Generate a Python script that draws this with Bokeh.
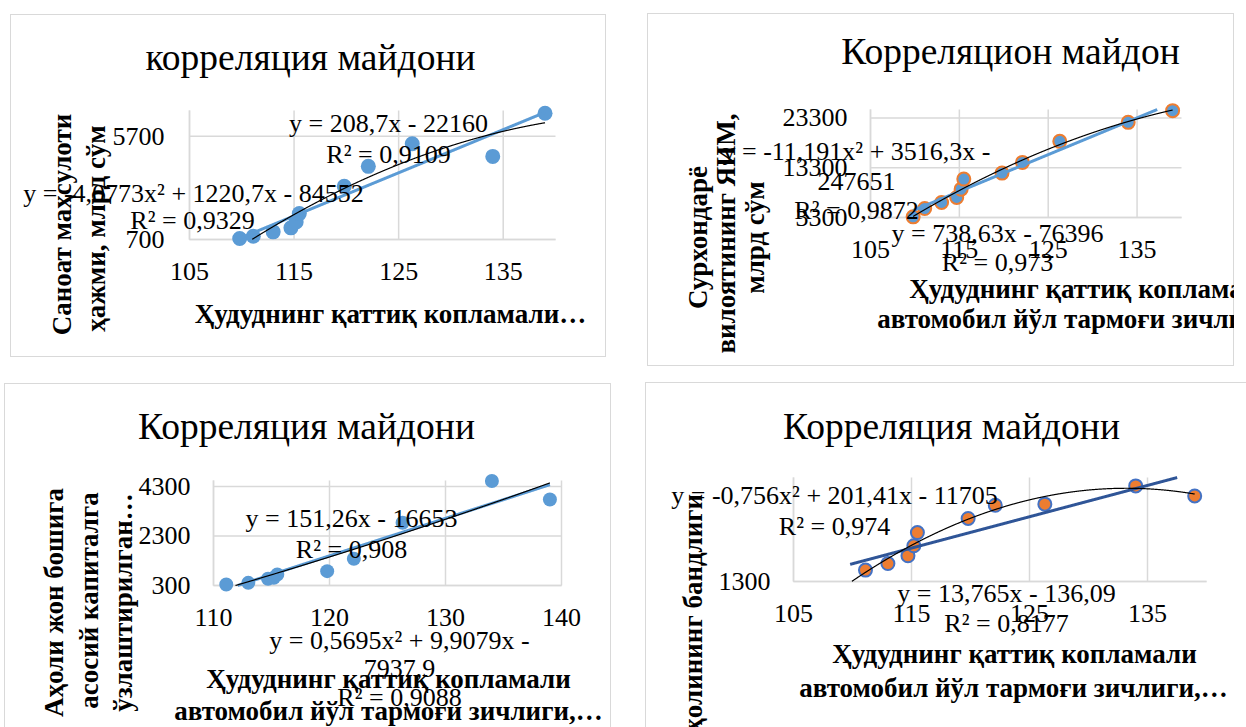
import numpy as np
from bokeh.plotting import figure
from bokeh.models import Range1d, FixedTicker, Label
from bokeh.layouts import row, column
from bokeh.embed import file_html
from bokeh.resources import INLINE

FONT = "Liberation Serif"

# ---------------- data ----------------
road_density = [109.8, 111.1, 113.0, 114.7, 115.2, 115.5, 119.8, 122.1, 126.3, 134.0, 139.0]
industry_output = [748, 861, 1070, 1263, 1552, 1954, 3273, 4238, 5331, 4720, 6810]
grp_output = [3430, 5110, 6320, 7330, 9000, 11020, 12220, 14370, 18600, 22420, 24770]
invest_per_capita = [340, 408, 570, 610, 745, 880, 1378, 2832, 4520, 3775]   # districts 2..11
employment = [1350, 1379, 1413, 1457, 1515, 1577, 1635, 1640, 1720, 1676]      # districts 2..11

titles = ["корреляция майдони", "Корреляцион майдон", "Корреляция майдони", "Корреляция майдони"]
x_title_short = "Ҳудуднинг қаттиқ копламали…"
x_title_lines = ["Ҳудуднинг қаттиқ копламали", "автомобил йўл тармоғи зичлиги,…"]
y_title_1 = ["Саноат маҳсулоти", "ҳажми, млрд сўм"]
y_title_2 = ["Сурхондарё", "вилоятининг ЯИМ,", "млрд сўм"]
y_title_3 = ["Аҳоли жон бошига", "асосий капиталга", "ўзлаштирилган…"]
y_title_4 = ["Аҳолининг бандлиги"]

x_ticks_1 = [105, 115, 125, 135]
y_ticks_1 = [700, 5700]
x_ticks_2 = [105, 115, 125, 135]
y_ticks_2 = [3300, 13300, 23300]
x_ticks_3 = [110, 120, 130, 140]
y_ticks_3 = [300, 2300, 4300]
x_ticks_4 = [105, 115, 125, 135]
y_ticks_4 = [1300]

lin_coef_1 = [208.7, -22160]
poly_coef_1 = [-4.0773, 1220.7, -84552]
lin_coef_2 = [738.63, -76396]
poly_coef_2 = [-11.191, 3516.3, -247651]
lin_coef_3 = [151.26, -16653]
poly_coef_3 = [0.5695, 9.9079, -7937.9]
lin_coef_4 = [13.765, -136.09]
poly_coef_4 = [-0.756, 201.41, -11705]

lin_eq_1 = ["y = 208,7x - 22160", "R² = 0,9109"]
poly_eq_1 = ["y = -4,0773x² + 1220,7x - 84552", "R² = 0,9329"]
lin_eq_2 = ["y = 738,63x - 76396", "R² = 0,973"]
poly_eq_2 = ["y = -11,191x² + 3516,3x -", "247651", "R² = 0,9872"]
lin_eq_3 = ["y = 151,26x - 16653", "R² = 0,908"]
poly_eq_3 = ["y = 0,5695x² + 9,9079x -", "7937,9", "R² = 0,9088"]
lin_eq_4 = ["y = 13,765x - 136,09", "R² = 0,8177"]
poly_eq_4 = ["y = -0,756x² + 201,41x - 11705", "R² = 0,974"]

BLUE = "#5B9BD5"
ORANGE = "#ED7D31"
NAVY = "#2F5597"
GRID = "#d9d9d9"
TS = 37.5   # chart title size
BS = 27     # bold axis-title size


def to_data(cfg, px, py):
    L, T, R, B = cfg["box"]
    x0, x1 = cfg["xr"]
    y0, y1 = cfg["yr"]
    return x0 + (px - L) * (x1 - x0) / (R - L), y0 + (B - py) * (y1 - y0) / (B - T)


def add_text(p, cfg, text, px, py, size=26, bold=False, vertical=False):
    dx, dy = to_data(cfg, px, py)
    p.add_layout(Label(x=dx, y=dy, text=text, text_font=FONT, text_font_size=f"{size}px",
                       text_font_style="bold" if bold else "normal", text_color="black",
                       text_align="center", text_baseline="middle",
                       angle=np.pi / 2 if vertical else 0))


def make_panel(cfg):
    x0, x1 = cfg["xr"]
    y0, y1 = cfg["yr"]
    cl, ct, w, h = cfg["canvas"]
    xa, ya = to_data(cfg, cl, ct + h)
    xb, yb = to_data(cfg, cl + w, ct)
    p = figure(width=w, height=h, output_backend="svg", toolbar_location=None,
               x_range=Range1d(xa, xb), y_range=Range1d(ya, yb),
               min_border_left=0, min_border_right=0, min_border_top=0, min_border_bottom=0)
    p.title.visible = False
    p.outline_line_color = None
    p.border_fill_color = None
    p.background_fill_color = None
    p.styles = {"box-shadow": cfg["border"]}
    p.xgrid.visible = False
    p.ygrid.visible = False

    p.xaxis.ticker = FixedTicker(ticks=cfg["xticks"])
    p.yaxis.ticker = FixedTicker(ticks=cfg["yticks"])
    for ax in (p.xaxis[0], p.yaxis[0]):
        ax.axis_line_color = GRID
        ax.axis_line_width = 1.5
        ax.major_tick_line_color = None
        ax.minor_tick_line_color = None
        ax.major_tick_out = 0
        ax.major_tick_in = 0
        ax.major_label_text_font = FONT
        ax.major_label_text_font_size = "26px"
        ax.major_label_text_color = "black"
        ax.level = "underlay"
    p.xaxis.fixed_location = y0
    p.yaxis.fixed_location = x0
    p.xaxis.bounds = (x0, x1)
    p.yaxis.bounds = (y0, y1)
    p.xaxis.major_label_standoff = 23
    p.yaxis.major_label_standoff = cfg.get("ystand", 23)

    # gridlines at the tick positions
    xt, yt = cfg["xticks"], cfg["yticks"]
    p.segment(x0=xt, y0=[y0] * len(xt), x1=xt, y1=[y1] * len(xt),
              line_color=GRID, line_width=1.5, level="underlay")
    p.segment(x0=[x0] * len(yt), y0=yt, x1=[x1] * len(yt), y1=yt,
              line_color=GRID, line_width=1.5, level="underlay")

    # markers
    p.scatter(cfg["x"], cfg["y"], size=cfg["msize"], fill_color=cfg["mfill"],
              line_color=cfg["mline"], line_width=2)

    # trend lines (clipped to the plot area)
    xs = np.linspace(min(road_density), max(road_density), 1200)
    yl = np.polyval(cfg["lin"], xs)
    yl[(yl < y0) | (yl > y1)] = np.nan
    p.line(xs, yl, line_color=cfg["lcolor"], line_width=3)
    yp = np.polyval(cfg["poly"], xs)
    yp[(yp < y0) | (yp > y1)] = np.nan
    p.line(xs, yp, line_color="black", line_width=1.2)

    for t in cfg["texts"]:
        add_text(p, cfg, *t)
    return p


cfg1 = dict(canvas=(10, 14, 596, 343), box=(189, 110, 555, 239), xr=(105, 140), yr=(700, 6940),
            xticks=x_ticks_1, yticks=y_ticks_1, x=road_density, y=industry_output,
            msize=15, mfill=BLUE, mline=None, lcolor=BLUE, lin=lin_coef_1, poly=poly_coef_1,
            border="inset 0 0 0 1px #d9d9d9", ystand=25,
            texts=[(titles[0], 310, 57, TS),
                   (lin_eq_1[0], 388, 123), (lin_eq_1[1], 388, 154),
                   (poly_eq_1[0], 193, 193), (poly_eq_1[1], 192, 220),
                   (x_title_short, 390, 313, BS, True),
                   (y_title_1[0], 61, 224, BS, True, True), (y_title_1[1], 95, 228, BS, True, True)])

cfg2 = dict(canvas=(647, 13, 587, 353), box=(870, 109, 1181, 217), xr=(105, 140), yr=(3300, 25000),
            xticks=x_ticks_2, yticks=y_ticks_2, x=road_density, y=grp_output,
            msize=13, mfill=BLUE, mline=ORANGE, lcolor=BLUE, lin=lin_coef_2, poly=poly_coef_2,
            border="inset 0 0 0 1px #d9d9d9",
            texts=[(titles[1], 1010, 51, TS),
                   (poly_eq_2[0], 856, 151), (poly_eq_2[1], 856, 181), (poly_eq_2[2], 856, 210),
                   (lin_eq_2[0], 997, 233), (lin_eq_2[1], 997, 262),
                   (x_title_lines[0], 1091, 288, BS, True), (x_title_lines[1], 1091, 318, BS, True),
                   (y_title_2[0], 697, 237, BS, True, True), (y_title_2[1], 725, 233, BS, True, True),
                   (y_title_2[2], 754, 237, BS, True, True)])

cfg3 = dict(canvas=(4, 383, 607, 344), box=(213, 480, 561, 585), xr=(110, 140), yr=(300, 4540),
            xticks=x_ticks_3, yticks=y_ticks_3, x=road_density[1:], y=invest_per_capita,
            msize=14, mfill=BLUE, mline=None, lcolor=BLUE, lin=lin_coef_3, poly=poly_coef_3,
            border="inset 1px 1px 0 0 #d9d9d9, inset -1px 0 0 0 #d9d9d9",
            texts=[(titles[2], 306, 426, TS),
                   (lin_eq_3[0], 351, 518), (lin_eq_3[1], 351, 549),
                   (poly_eq_3[0], 399, 640), (poly_eq_3[1], 399, 668), (poly_eq_3[2], 399, 697),
                   (x_title_lines[0], 388, 678, BS, True), (x_title_lines[1], 388, 710, BS, True),
                   (y_title_3[0], 53, 602, BS, True, True), (y_title_3[1], 88, 600, BS, True, True),
                   (y_title_3[2], 122, 602, BS, True, True)])

cfg4 = dict(canvas=(645, 382, 601, 345), box=(793, 477, 1206, 581), xr=(105, 140), yr=(1300, 1757),
            xticks=x_ticks_4, yticks=y_ticks_4, x=road_density[1:], y=employment,
            msize=13, mfill=ORANGE, mline="#4472C4", lcolor=NAVY, lin=lin_coef_4, poly=poly_coef_4,
            border="inset 1px 1px 0 0 #d9d9d9",
            texts=[(titles[3], 951, 426, TS),
                   (poly_eq_4[0], 834, 495), (poly_eq_4[1], 834, 526),
                   (lin_eq_4[0], 1006, 593), (lin_eq_4[1], 1006, 623),
                   (x_title_lines[0], 1014, 653, BS, True), (x_title_lines[1], 1013, 687, BS, True),
                   (y_title_4[0], 692, 622, BS, True, True)])

p1 = make_panel(cfg1)
p2 = make_panel(cfg2)
p3 = make_panel(cfg3)
p4 = make_panel(cfg4)
p1.margin = (14, 0, 0, 10)
p2.margin = (13, 0, 0, 41)
p3.margin = (17, 0, 0, 4)
p4.margin = (16, 0, 0, 34)

layout = column(row(p1, p2), row(p3, p4))
open("out.html", "w", encoding="utf-8").write(file_html(layout, INLINE))
